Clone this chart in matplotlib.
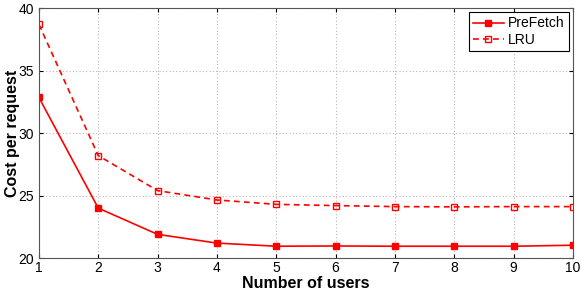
import matplotlib
matplotlib.use("Agg")
import matplotlib.pyplot as plt

plt.rcParams['font.family'] = ['Liberation Sans', 'DejaVu Sans']

# data
users = [1, 2, 3, 4, 5, 6, 7, 8, 9, 10]
prefetch = [32.85, 24.0, 21.9, 21.2, 20.95, 20.97, 20.95, 20.95, 20.95, 21.03]
lru = [38.7, 28.2, 25.4, 24.65, 24.3, 24.2, 24.12, 24.1, 24.12, 24.12]

fig = plt.figure(figsize=(5.81, 2.90), dpi=100)
ax = fig.add_axes([0.067, 0.11, 0.919, 0.862])

ax.plot(users, prefetch, '-', color='red', lw=1.2, marker='s', ms=4,
        mfc='red', mec='red', label='PreFetch')
ax.plot(users, lru, linestyle=(0, (3.5, 2.5)), color='red', lw=1.2, marker='s', ms=5,
        mfc='none', mec='red', mew=1.0, label='LRU')

ax.set_xlim(1, 10)
ax.set_ylim(20, 40)
ax.set_xticks(users)
ax.set_yticks([20, 25, 30, 35, 40])
ax.grid(True, linestyle=(0, (1, 2)), color='#b8b8b8', lw=0.8)
ax.tick_params(direction='in', labelsize=10, length=3, top=True, right=True)
ax.tick_params(axis='x', pad=2)
for s in ax.spines.values():
    s.set_color('#555555')

ax.set_xlabel('Number of users', fontsize=11.5, fontweight='bold')
ax.set_ylabel('Cost per request', fontsize=11.5, fontweight='bold')
ax.xaxis.set_label_coords(0.5, -0.07)
ax.yaxis.set_label_coords(-0.036, 0.5)

leg = ax.legend(loc='upper right', fontsize=10, fancybox=False, framealpha=1,
                edgecolor='black', handlelength=2.2, borderpad=0.3,
                labelspacing=0.2, handletextpad=0.3, borderaxespad=0.3)
leg.get_frame().set_linewidth(0.8)

fig.savefig('out.png', dpi=100)
